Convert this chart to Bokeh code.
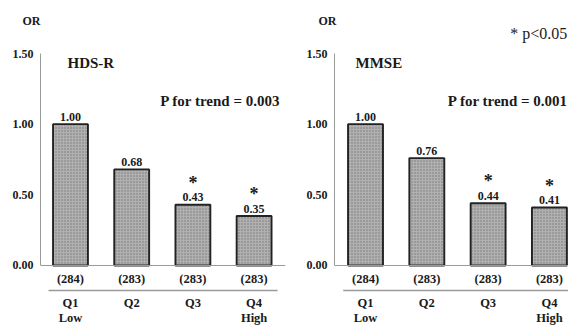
from bokeh.plotting import figure
from bokeh.layouts import row
from bokeh.models import Range1d, FixedTicker, PrintfTickFormatter, Span, Title
from bokeh.core.properties import value
from bokeh.embed import file_html
from bokeh.resources import INLINE
import numpy as np

# ---- data ----
categories = ["Q1", "Q2", "Q3", "Q4"]
sublabels = ["Low", "", "", "High"]
n_counts = ["(284)", "(283)", "(283)", "(283)"]
hdsr_or = [1.00, 0.68, 0.43, 0.35]
hdsr_sig = [False, False, True, True]
mmse_or = [1.00, 0.76, 0.44, 0.41]
mmse_sig = [False, False, True, True]
hdsr_title = "HDS-R"
mmse_title = "MMSE"
hdsr_trend = "P for trend = 0.003"
mmse_trend = "P for trend = 0.001"
sig_note = "* p<0.05"
y_ticks = [0.0, 0.5, 1.0, 1.5]
y_name = "OR"

# ---- style / layout ----
FONT = value("Liberation Serif")
TXT = "#1a1a1a"
H = 326
TOP = 27                 # frame top (px)
PXU = 141.33             # pixels per OR unit
Y0 = -61 / PXU
Y1 = 1.5 + 26 / PXU


def panel(vals, sig, title, trend, width, left, right, xr, title_x, sep_x, trend_x,
          or_off, note=None, note_x=None):
    p = figure(width=width, height=H, output_backend="svg", toolbar_location=None,
               x_range=Range1d(*xr), y_range=Range1d(Y0, Y1),
               min_border_left=left, min_border_right=right,
               min_border_top=TOP, min_border_bottom=0,
               x_axis_location=None, outline_line_color=None,
               background_fill_color="white", border_fill_color="white")
    p.title = Title(text=y_name, align="left", offset=or_off, standoff=0,
                    text_font="Liberation Serif", text_font_style="bold",
                    text_font_size="12px", text_color=TXT)
    p.grid.visible = False
    ax = p.yaxis[0]
    ax.bounds = (0, 1.5)
    ax.ticker = FixedTicker(ticks=y_ticks)
    ax.formatter = PrintfTickFormatter(format="%.2f")
    ax.major_tick_out = 0
    ax.major_tick_in = 0
    ax.minor_tick_out = 0
    ax.minor_tick_in = 0
    ax.axis_line_color = "#9a9a9a"
    ax.axis_line_width = 1
    ax.major_label_standoff = 7
    ax.major_label_text_font = "Liberation Serif"
    ax.major_label_text_font_style = "bold"
    ax.major_label_text_font_size = "12px"
    ax.major_label_text_color = TXT

    idx = np.arange(len(categories))
    vals = np.array(vals)
    sig = np.array(sig)
    p.vbar(x=idx, top=vals, bottom=0, width=0.57, fill_color="#b0b0b0",
           hatch_pattern="dot", hatch_color="#777777", hatch_scale=3, hatch_weight=0.6,
           line_color="#222222", line_width=1.9)
    p.add_layout(Span(location=0, dimension="width", line_color="#9a9a9a", line_width=1))

    tkw = dict(text_font=FONT, text_font_style="bold", text_color=TXT,
               text_align="center", text_baseline="middle")
    p.text(x=idx, y=vals + 7.5 / PXU, text=[f"{v:.2f}" for v in vals],
           text_font_size="12px", **tkw)
    p.text(x=idx[sig], y=vals[sig] + 22 / PXU, text=["*"] * int(sig.sum()),
           text_font_size="18px", **tkw)
    p.text(x=idx, y=[-13.5 / PXU] * len(idx), text=n_counts, text_font_size="12.5px", **tkw)
    p.text(x=idx, y=[-37.5 / PXU] * len(idx), text=categories, text_font_size="12.5px", **tkw)
    p.text(x=idx, y=[-53 / PXU] * len(idx), text=sublabels, text_font_size="12.5px", **tkw)
    p.segment(x0=[sep_x[0]], x1=[sep_x[1]], y0=[-25 / PXU], y1=[-25 / PXU],
              line_color="#9a9a9a", line_width=1.5)

    p.text(x=[title_x], y=[(265 - 62.5) / PXU], text=[title], text_font=FONT,
           text_font_style="bold", text_font_size="15px", text_color=TXT,
           text_align="left", text_baseline="middle")
    p.text(x=[trend_x], y=[(265 - 100.2) / PXU], text=[trend], text_font=FONT,
           text_font_style="bold", text_font_size="15px", text_color=TXT,
           text_align="right", text_baseline="middle")
    if note:
        p.text(x=[note_x], y=[(265 - 33.5) / PXU], text=[note], text_font=FONT,
               text_font_style="normal", text_font_size="16px", text_color=TXT,
               text_align="right", text_baseline="middle")
    return p


p1 = panel(hdsr_or, hdsr_sig, hdsr_title, hdsr_trend, 290, 40, 5, (-0.49, 3.513),
           title_x=-0.049, sep_x=(-0.359, 3.383), trend_x=3.432, or_off=-18)
p2 = panel(mmse_or, mmse_sig, mmse_title, mmse_trend, 278, 44, 0, (-0.506, 3.311),
           title_x=-0.163, sep_x=(-0.364, 3.311), trend_x=3.305, or_off=-16,
           note=sig_note, note_x=3.29)

layout = row(p1, p2, spacing=0)
open("out.html", "w").write(file_html(layout, INLINE))
